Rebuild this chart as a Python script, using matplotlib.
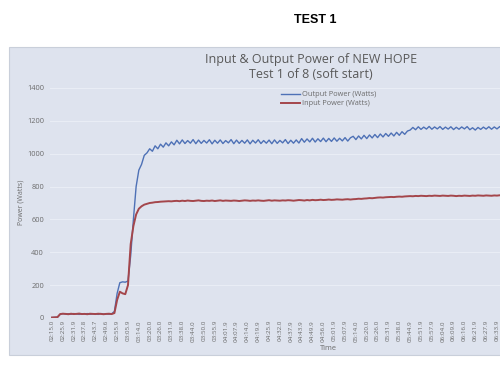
import numpy as np
import matplotlib.pyplot as plt
from matplotlib.patches import Rectangle

# Time stamps shown on the category axis (one label every 4 samples)
time_labels = ["02:15.0", "02:25.9", "02:31.9", "02:37.8", "02:43.7", "02:49.6", "02:55.9",
               "03:05.9", "03:14.0", "03:20.0", "03:26.0", "03:31.9", "03:38.0", "03:44.0",
               "03:50.0", "03:55.9", "04:01.9", "04:07.9", "04:14.0", "04:19.9", "04:25.9",
               "04:32.0", "04:37.9", "04:43.9", "04:49.9", "04:56.0", "05:01.9", "05:07.9",
               "05:14.0", "05:20.0", "05:26.0", "05:31.9", "05:38.0", "05:44.9", "05:51.9",
               "05:57.9", "06:04.0", "06:09.9", "06:16.0", "06:21.9", "06:27.9", "06:33.9"]
label_every = 4

# Output power readings (Watts)
output_power = [
    3, 4, 5, 22, 27, 24, 26, 23, 27, 25, 22, 26, 24, 27, 23, 25, 26, 22, 27, 24, 25, 23, 26,
    40, 150, 215, 220, 218, 225, 380, 600, 800, 900, 935, 990, 1005, 1030, 1015, 1048, 1030,
    1058, 1040, 1066, 1048, 1072, 1054,
    1082, 1060, 1084, 1062, 1080, 1064, 1086, 1061, 1083, 1063,
    1081, 1065, 1085, 1060, 1082, 1064, 1084, 1062, 1080, 1066,
    1086, 1061, 1083, 1063, 1081, 1064, 1084, 1060, 1082, 1065,
    1085, 1062, 1080, 1064, 1083, 1061, 1084, 1063, 1081, 1066,
    1086, 1062, 1082, 1064, 1084, 1065,
    1092, 1070, 1090, 1072, 1094, 1071, 1091, 1074, 1095, 1073,
    1093, 1075, 1096, 1076, 1094, 1078, 1098, 1077, 1097,
    1106, 1086, 1108, 1090, 1112, 1092, 1114, 1096, 1117, 1098,
    1120, 1102, 1123, 1106, 1126, 1108, 1130, 1112, 1134, 1118, 1138,
    1144, 1160, 1146, 1164, 1148, 1162, 1150, 1166, 1149, 1163,
    1151, 1165, 1148, 1162, 1150, 1164, 1147, 1161, 1149, 1163,
    1151, 1165, 1146, 1158, 1144, 1160, 1148, 1162, 1150, 1164,
    1149, 1163, 1151, 1165, 1148, 1162, 1150,
]

# Input power readings (Watts)
input_power = [
    3, 4, 5, 24, 26, 25, 23, 26, 24, 25, 27, 24, 25, 23, 26, 25, 24, 26, 25, 23, 25, 26, 24,
    30, 110, 160, 150, 145, 200, 450, 560, 630, 665, 680, 690, 695, 700, 702, 705, 706,
    708, 709, 710, 711, 710, 712,
    713, 711, 714, 712, 715, 713, 712, 714, 716, 713,
    712, 714, 713, 715, 712, 714, 716, 713, 715, 714,
    713, 715, 714, 712, 714, 716, 715, 713, 715, 714,
    716, 714, 713, 715, 717, 714, 716, 715, 714, 716,
    715, 717, 716, 714, 716, 718,
    717, 715, 718, 716, 719, 717, 718, 720, 718, 719,
    721, 719, 720, 722, 721, 720, 722, 723, 721,
    723, 724, 726, 725, 727, 728, 730, 729, 731, 733,
    734, 733, 735, 736, 737, 736, 738, 739, 738, 740, 741,
    742, 741, 743, 742, 744, 743, 742, 744, 743, 745,
    744, 743, 745, 744, 743, 745, 744, 742, 744, 743,
    745, 744, 743, 745, 744, 746, 745, 744, 746, 745,
    744, 746, 745, 747, 746, 745, 746,
]

bg = "#dee3ee"
grey = "#6b6b6b"

fig = plt.figure(figsize=(5, 3.75), dpi=100)
fig.patch.set_facecolor("white")

# chart area (runs off the right edge like the screenshot)
fig.patches.append(Rectangle((9 / 500, 20 / 375), 1.2, 308 / 375, transform=fig.transFigure,
                             facecolor=bg, edgecolor="#c9cfda", linewidth=0.8, zorder=-5))

ax = fig.add_axes([50 / 500, 57 / 375, 460 / 500, 230 / 375])
ax.set_zorder(2)
ax.set_facecolor(bg)
for s in ax.spines.values():
    s.set_visible(False)

ax.plot(np.arange(len(output_power)), output_power, color="#4e71b6", lw=1.0,
        label="Output Power (Watts)")
ax.plot(np.arange(len(input_power)), input_power, color="#a4464b", lw=1.4,
        label="Input Power (Watts)")

ax.set_xlim(-0.74, 168.8)
ax.set_ylim(0, 1400)
ax.set_yticks(range(0, 1401, 200))
ax.yaxis.grid(True, color="#eaeef6", lw=0.7)
ax.set_axisbelow(True)

ax.set_xticks(np.arange(len(time_labels)) * label_every)
ax.set_xticklabels(time_labels, rotation=90, fontsize=4.5, color=grey, family="Open Sans")
ax.tick_params(axis="x", length=0, pad=1.5)
ax.tick_params(axis="y", length=0, pad=4.3, labelsize=5.3, labelcolor=grey)
for t in ax.get_yticklabels():
    t.set_family("Open Sans")

fig.text(21 / 500, 1 - 202 / 375, "Power (Watts)", rotation=90, ha="center", va="center",
         fontsize=5, color=grey, family="Open Sans")
fig.text(328 / 500, 1 - 348 / 375, "Time", ha="center", va="center",
         fontsize=5.3, color=grey, family="Open Sans")

fig.text(311 / 500, 1 - 59 / 375, "Input & Output Power of NEW HOPE", ha="center", va="center",
         fontsize=9, color="#595959", family="Open Sans")
fig.text(311 / 500, 1 - 74 / 375, "Test 1 of 8 (soft start)", ha="center", va="center",
         fontsize=9, color="#595959", family="Open Sans")

fig.text(315 / 500, 1 - 20 / 375, "TEST 1", ha="center", va="center",
         fontsize=9, fontweight="bold", color="black", family="Liberation Sans")

ax.legend(loc="upper left", bbox_to_anchor=(228 / 460, 1.0), frameon=False,
          handlelength=2.6, handletextpad=0.2, labelspacing=0.3,
          borderaxespad=0.0, labelcolor=grey, prop={"family": "Open Sans", "size": 5.3})

fig.savefig("out.png", dpi=100, facecolor="white")
